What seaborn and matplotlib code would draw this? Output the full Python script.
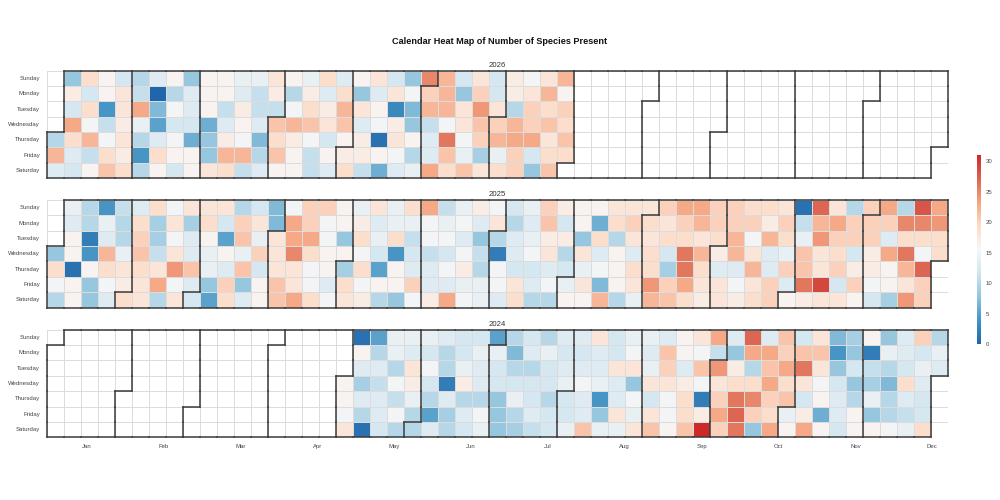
import numpy as np
import pandas as pd
import matplotlib
matplotlib.use('Agg')
import matplotlib.pyplot as plt
from matplotlib.colors import LinearSegmentedColormap, ListedColormap
from matplotlib.collections import LineCollection
import seaborn as sns

# number of species present per day, one line per calendar week (Sun..Sat)
start_2026 = '2026-01-01'
species_2026 = [
    10, 22, 13,
    8, 17, 12, 23, 19, 13, 12,
    19, 12, 19, 15, 22, 11, 16,
    16, 16, 4, 11, 15, 19, 21,
    12, 18, 18, 17, 18, 17, 19,
    10, 11, 23, 14, 10, 4, 10,
    13, 0, 7, 5, 13, 19, 16,
    16, 10, 15, 12, 15, 16, 12,
    8, 13, 13, 12, 6, 16, 16,
    16, 16, 16, 6, 8, 8, 18,
    16, 16, 11, 13, 17, 22, 19,
    14, 13, 17, 16, 15, 22, 11,
    14, 11, 11, 13, 7, 10, 13,
    18, 17, 11, 21, 19, 21, 16,
    16, 10, 15, 22, 17, 16, 16,
    14, 17, 19, 21, 15, 11, 11,
    19, 13, 17, 18, 12, 16, 13,
    13, 19, 22, 21, 16, 17, 19,
    16, 8, 18, 13, 17, 17, 11,
    18, 13, 16, 15, 1, 16, 6,
    12, 18, 3, 17, 18, 15, 13,
    8, 15, 7, 8, 16, 10, 14,
    25, 20, 22, 11, 13, 13, 23,
    22, 22, 22, 15, 26, 21, 19,
    12, 8, 18, 18, 15, 14, 21,
    18, 20, 24, 21, 20, 9, 18,
    12, 12, 18, 20, 22, 14, 19,
    17, 17, 10, 22, 23, 20, 20,
    15, 18, 20, 20, 23, 12, 8,
    18, 22, 19, 21, 18, 19, 21,
    22, 16, 20, 19, 21, 19,
]

start_2025 = '2025-01-01'
species_2025 = [
    8, 19, 15, 10,
    14, 13, 16, 16, 1, 16, 16,
    10, 10, 2, 4, 16, 8, 8,
    4, 14, 13, 22, 19, 15, 13,
    11, 10, 10, 14, 18, 17, 19,
    13, 19, 20, 21, 19, 18, 18,
    19, 9, 9, 11, 18, 23, 10,
    15, 18, 15, 18, 24, 15, 18,
    18, 9, 13, 13, 21, 13, 12,
    18, 19, 16, 14, 14, 8, 5,
    18, 12, 5, 16, 13, 20, 19,
    10, 20, 21, 14, 21, 8, 13,
    12, 18, 14, 20, 12, 16, 16,
    7, 7, 18, 18, 18, 21, 21,
    15, 23, 23, 25, 18, 18, 23,
    20, 20, 23, 19, 15, 15, 19,
    20, 15, 15, 16, 16, 13, 15,
    16, 16, 8, 16, 9, 19, 18,
    14, 17, 19, 15, 19, 15, 17,
    18, 13, 14, 12, 5, 16, 10,
    14, 14, 19, 4, 16, 16, 8,
    19, 14, 11, 12, 13, 20, 15,
    23, 15, 15, 11, 13, 13, 17,
    11, 14, 15, 12, 15, 13, 23,
    14, 15, 13, 15, 17, 14, 15,
    17, 13, 8, 11, 10, 14, 14,
    15, 18, 10, 2, 15, 15, 13,
    12, 10, 13, 13, 12, 18, 19,
    14, 13, 14, 15, 12, 13, 10,
    20, 21, 17, 18, 13, 15, 10,
    17, 12, 17, 10, 12, 14, 16,
    16, 16, 8, 18, 14, 18, 16,
    16, 6, 19, 13, 15, 7, 22,
    18, 19, 10, 16, 16, 16, 10,
    18, 20, 18, 13, 19, 18, 14,
    18, 19, 18, 19, 19, 24, 22,
    20, 18, 19, 12, 9, 20, 21,
    23, 20, 19, 26, 26, 23, 19,
    23, 22, 18, 22, 19, 18, 17,
    20, 20, 19, 17, 13, 18, 18,
    20, 20, 22, 22, 13, 15, 17,
    19, 20, 15, 18, 22, 18, 19,
    19, 17, 22, 13, 13, 20, 20,
    18, 20, 19, 14, 20, 13, 16,
    1, 11, 14, 21, 21, 26, 17,
    27, 22, 24, 18, 18, 29, 18,
    18, 23, 20, 19, 20, 12, 18,
    10, 20, 20, 12, 17, 20, 16,
    20, 20, 20, 17, 17, 15, 12,
    23, 20, 13, 23, 16, 16, 9,
    10, 25, 19, 26, 22, 18, 24,
    28, 25, 19, 15, 27, 20, 20,
    23, 24, 19, 19,
]

start_2024 = '2024-05-01'
species_2024 = [
    16, 16, 15, 18,
    1, 16, 13, 9, 13, 10, 1,
    5, 10, 13, 11, 13, 13, 12,
    14, 14, 10, 15, 11, 15, 10,
    14, 13, 18, 17, 14, 10, 10,
    14, 12, 15, 12, 10, 5, 13,
    13, 10, 10, 2, 13, 9, 10,
    12, 12, 14, 17, 10, 13, 12,
    12, 14, 13, 13, 10, 15, 14,
    5, 14, 12, 12, 8, 8, 8,
    10, 7, 10, 12, 14, 10, 9,
    12, 13, 10, 12, 12, 13, 11,
    10, 14, 12, 12, 10, 12, 12,
    13, 12, 13, 14, 12, 12, 14,
    13, 12, 13, 15, 13, 13, 21,
    18, 13, 13, 14, 4, 8, 14,
    12, 12, 18, 13, 13, 18, 14,
    14, 15, 18, 8, 15, 14, 18,
    14, 13, 14, 18, 12, 18, 21,
    13, 21, 20, 18, 15, 15, 16,
    16, 16, 13, 17, 19, 19, 21,
    18, 15, 21, 15, 2, 17, 31,
    23, 11, 24, 18, 20, 23, 20,
    13, 8, 17, 19, 26, 27, 26,
    27, 23, 10, 19, 25, 20, 8,
    13, 23, 21, 23, 20, 19, 23,
    21, 20, 23, 19, 21, 14, 16,
    12, 21, 26, 18, 12, 17, 23,
    18, 21, 18, 15, 16, 6, 16,
    7, 4, 8, 12, 13, 13, 12,
    9, 8, 12, 8, 10, 16, 16,
    16, 2, 11, 9, 14, 8, 16,
    8, 14, 10, 7, 10, 10, 15,
    13, 13, 12, 19, 13, 11, 14,
    20, 12, 14, 13, 12, 12, 19,
    10, 14, 13,
]

years = [2026, 2025, 2024]
starts = {2026: start_2026, 2025: start_2025, 2024: start_2024}
values = {2026: species_2026, 2025: species_2025, 2024: species_2024}
day_labels = ['Sunday', 'Monday', 'Tuesday', 'Wednesday', 'Thursday', 'Friday', 'Saturday']
month_labels = ['Jan', 'Feb', 'Mar', 'Apr', 'May', 'Jun',
                'Jul', 'Aug', 'Sep', 'Oct', 'Nov', 'Dec']

cmap = LinearSegmentedColormap.from_list(
    'rdbu9', ['#2166ac', '#4393c3', '#92c5de', '#d1e5f0', '#f7f7f7',
              '#fddbc7', '#f4a582', '#dc6450', '#cc2a2a'])


def year_grid(year):
    days = pd.date_range(f'{year}-01-01', f'{year}-12-31')
    dow = (days.dayofweek + 1) % 7
    week = (np.arange(len(days)) + dow[0]) // 7
    month = np.full((7, 53), -1)
    month[dow, week] = days.month
    s = pd.Series(values[year], index=pd.date_range(starts[year], periods=len(values[year])))
    s = s.reindex(days)
    grid = np.full((7, 53), np.nan)
    grid[dow, week] = s.values
    return grid, month


def month_outline(month):
    pad = np.full((9, 55), -1)
    pad[1:8, 1:54] = month
    segs = []
    for r in range(8):
        for c in range(54):
            # vertical edge between (r, c) and (r, c+1)
            if r >= 1 and pad[r, c] != pad[r, c + 1]:
                segs.append([(c, r - 1), (c, r)])
            # horizontal edge between (r, c) and (r+1, c)
            if c >= 1 and pad[r, c] != pad[r + 1, c]:
                segs.append([(c - 1, r), (c, r)])
    return segs


fig = plt.figure(figsize=(10, 5), dpi=100)
plt.rcParams['font.family'] = ['Liberation Sans', 'DejaVu Sans']

bottoms = {2026: 0.6436, 2025: 0.385, 2024: 0.1255}
cax = fig.add_axes([0.977, 0.312, 0.0045, 0.378])

for i, year in enumerate(years):
    ax = fig.add_axes([0.047, bottoms[year], 0.901, 0.215])
    grid, month = year_grid(year)
    base = np.where(month >= 0, 0.0, np.nan)
    sns.heatmap(base, cmap=ListedColormap(['white']), cbar=False,
                linewidths=0.6, linecolor='#dcdcdc', ax=ax,
                xticklabels=False, yticklabels=False)
    sns.heatmap(grid, cmap=cmap, vmin=0, vmax=31, cbar=(i == 0), cbar_ax=cax if i == 0 else None,
                linewidths=0.6, linecolor='#dcdcdc', ax=ax,
                xticklabels=False, yticklabels=day_labels)
    lc = LineCollection(month_outline(month), colors='#3a3a3a', linewidths=1.1,
                        capstyle='projecting', clip_on=False, zorder=5)
    ax.add_collection(lc)
    ax.set_xlim(0, 53)
    ax.set_ylim(7, 0)
    ax.set_title(str(year), fontsize=5.6, color='#333333', pad=3)
    ax.tick_params(axis='y', length=0, pad=5, labelsize=4.3, labelcolor='#444444', rotation=0)
    ax.set_xlabel('')
    ax.set_ylabel('')
    if year == 2024:
        ax.set_xticks(2.35 + 4.52 * np.arange(12))
        ax.set_xticklabels(month_labels)
        ax.tick_params(axis='x', length=0, pad=5, labelsize=4.3, labelcolor='#444444')
    else:
        ax.set_xticks([])

cbar = cax.collections[0].colorbar if cax.collections else None
cax.set_yticks([0, 5, 10, 15, 20, 25, 30])
cax.tick_params(length=0, pad=3, labelsize=4.3, labelcolor='#444444')
for sp in cax.spines.values():
    sp.set_visible(False)
if cbar is not None:
    cbar.outline.set_visible(False)

fig.suptitle('Calendar Heat Map of Number of Species Present',
             fontsize=6.6, fontweight='bold', color='#111111', y=0.926)

fig.savefig('out.png', dpi=100)
